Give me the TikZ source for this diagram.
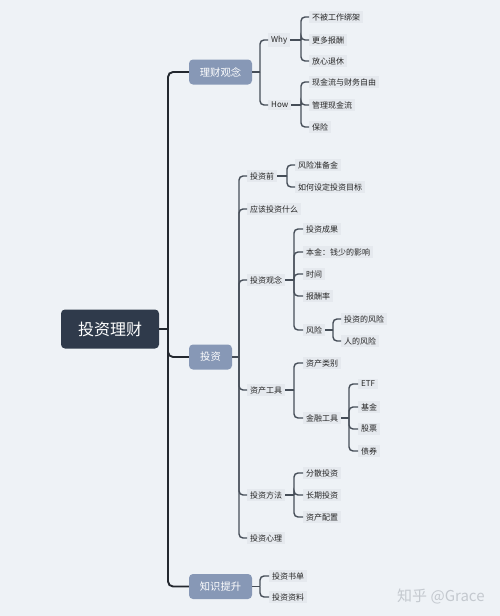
\documentclass[tikz,border=0pt]{standalone}
\usepackage{fontspec}
\setmainfont{Noto Sans CJK SC}
\definecolor{bgc}{HTML}{EEF2F6}
\definecolor{rootc}{HTML}{2F3A4B}
\definecolor{mainc}{HTML}{8798B6}
\definecolor{leafc}{HTML}{E5E9EE}
\definecolor{linec}{HTML}{464E58}
\definecolor{trunkc}{HTML}{23282F}
\definecolor{wmc}{HTML}{C4C9CF}
\tikzset{
  rootbox/.style={fill=rootc, rounded corners=4pt, text=white, minimum width=98pt, minimum height=39pt, inner sep=0pt, font=\fontsize{16}{18}\selectfont},
  mainbox/.style={fill=mainc, rounded corners=4pt, text=white, minimum height=25pt, inner sep=0pt, font=\fontsize{10.3}{12}\selectfont},
  leaf/.style={fill=leafc, anchor=west, inner xsep=3pt, inner ysep=2.5pt, text=black!85, font=\fontsize{8}{10}\selectfont},
  conn/.style={draw=linec, line width=1.4pt, rounded corners=4pt},
  trunk/.style={draw=trunkc, line width=1.9pt, rounded corners=5pt},
}
\begin{document}
\begin{tikzpicture}[x=1pt,y=-1pt]
\fill[bgc] (0,0) rectangle (500,616);
\useasboundingbox (0,0) rectangle (500,616);

% root and main boxes
\node[rootbox] (root) at (110,329) {投资理财};
\node[mainbox, minimum width=63pt] (m1) at (220.5,72) {理财观念};
\node[mainbox, minimum width=43pt] (m2) at (210.5,357) {投资};
\node[mainbox, minimum width=63pt] (m3) at (220.5,586.5) {知识提升};

% spine coordinates
\coordinate (t0) at (168,0);
\coordinate (s1) at (260,0);
\coordinate (s11) at (301,0);
\coordinate (s2) at (239,0);
\coordinate (s21) at (287,0);
\coordinate (s23) at (294,0);
\coordinate (s235) at (333,0);
\coordinate (s242) at (349,0);
\coordinate (s3) at (260,0);

% leaves of 理财观念
\node[leaf] (why) at (268,40) {Why};
\node[leaf] (how) at (268,105) {How};
\node[leaf] (a1) at (309,17) {不被工作绑架};
\node[leaf] (a2) at (309,40) {更多报酬};
\node[leaf] (a3) at (309,61) {放心退休};
\node[leaf] (b1) at (309,82) {现金流与财务自由};
\node[leaf] (b2) at (309,105) {管理现金流};
\node[leaf] (b3) at (309,127) {保险};

% leaves of 投资
\node[leaf] (c1) at (247,176) {投资前};
\node[leaf] (c2) at (247,209) {应该投资什么};
\node[leaf] (c3) at (247,280) {投资观念};
\node[leaf] (c4) at (247,390) {资产工具};
\node[leaf] (c5) at (247,495) {投资方法};
\node[leaf] (c6) at (247,538) {投资心理};

\node[leaf] (d1) at (295,165) {风险准备金};
\node[leaf] (d2) at (295,187) {如何设定投资目标};

\node[leaf] (e1) at (303,229) {投资成果};
\node[leaf] (e2) at (303,252) {本金：钱少的影响};
\node[leaf] (e3) at (303,274) {时间};
\node[leaf] (e4) at (303,296) {报酬率};
\node[leaf] (e5) at (303,330) {风险};
\node[leaf] (f1) at (341,319) {投资的风险};
\node[leaf] (f2) at (341,341) {人的风险};

\node[leaf] (g1) at (303,363) {资产类别};
\node[leaf] (g2) at (303,418) {金融工具};
\node[leaf] (h1) at (358,384) {ETF};
\node[leaf] (h2) at (358,407) {基金};
\node[leaf] (h3) at (358,429) {股票};
\node[leaf] (h4) at (358,451) {债券};

\node[leaf] (k1) at (303,473) {分散投资};
\node[leaf] (k2) at (303,495) {长期投资};
\node[leaf] (k3) at (303,517) {资产配置};

% leaves of 知识提升
\node[leaf] (n1) at (269,576) {投资书单};
\node[leaf] (n2) at (269,597) {投资资料};

% trunk
\draw[trunk] (root.east) -- (root.east -| t0);
\draw[trunk] (root.east -| t0) |- (m1.west);
\draw[trunk] (root.east -| t0) |- (m2.west);
\draw[trunk] (root.east -| t0) |- (m3.west);

% 理财观念 connectors
\draw[conn] (m1.east) -- (m1.east -| s1);
\foreach \c in {why,how} \draw[conn] (m1.east -| s1) |- (\c.west);
\draw[conn] (why.east) -- (why.east -| s11);
\foreach \c in {a1,a2,a3} \draw[conn] (why.east -| s11) |- (\c.west);
\draw[conn] (how.east) -- (how.east -| s11);
\foreach \c in {b1,b2,b3} \draw[conn] (how.east -| s11) |- (\c.west);

% 投资 connectors
\draw[conn] (m2.east) -- (m2.east -| s2);
\foreach \c in {c1,c2,c3,c4,c5,c6} \draw[conn] (m2.east -| s2) |- (\c.west);
\draw[conn] (c1.east) -- (c1.east -| s21);
\foreach \c in {d1,d2} \draw[conn] (c1.east -| s21) |- (\c.west);
\draw[conn] (c3.east) -- (c3.east -| s23);
\foreach \c in {e1,e2,e3,e4,e5} \draw[conn] (c3.east -| s23) |- (\c.west);
\draw[conn] (e5.east) -- (e5.east -| s235);
\foreach \c in {f1,f2} \draw[conn] (e5.east -| s235) |- (\c.west);
\draw[conn] (c4.east) -- (c4.east -| s23);
\foreach \c in {g1,g2} \draw[conn] (c4.east -| s23) |- (\c.west);
\draw[conn] (g2.east) -- (g2.east -| s242);
\foreach \c in {h1,h2,h3,h4} \draw[conn] (g2.east -| s242) |- (\c.west);
\draw[conn] (c5.east) -- (c5.east -| s23);
\foreach \c in {k1,k2,k3} \draw[conn] (c5.east -| s23) |- (\c.west);

% 知识提升 connectors
\draw[conn] (m3.east) -- (m3.east -| s3);
\foreach \c in {n1,n2} \draw[conn] (m3.east -| s3) |- (\c.west);

% watermark
\node[anchor=west, text=wmc, font=\fontsize{15}{17}\selectfont, inner sep=0pt] (wm) at (397,596) {知乎 @Grace};
\end{tikzpicture}
\end{document}
